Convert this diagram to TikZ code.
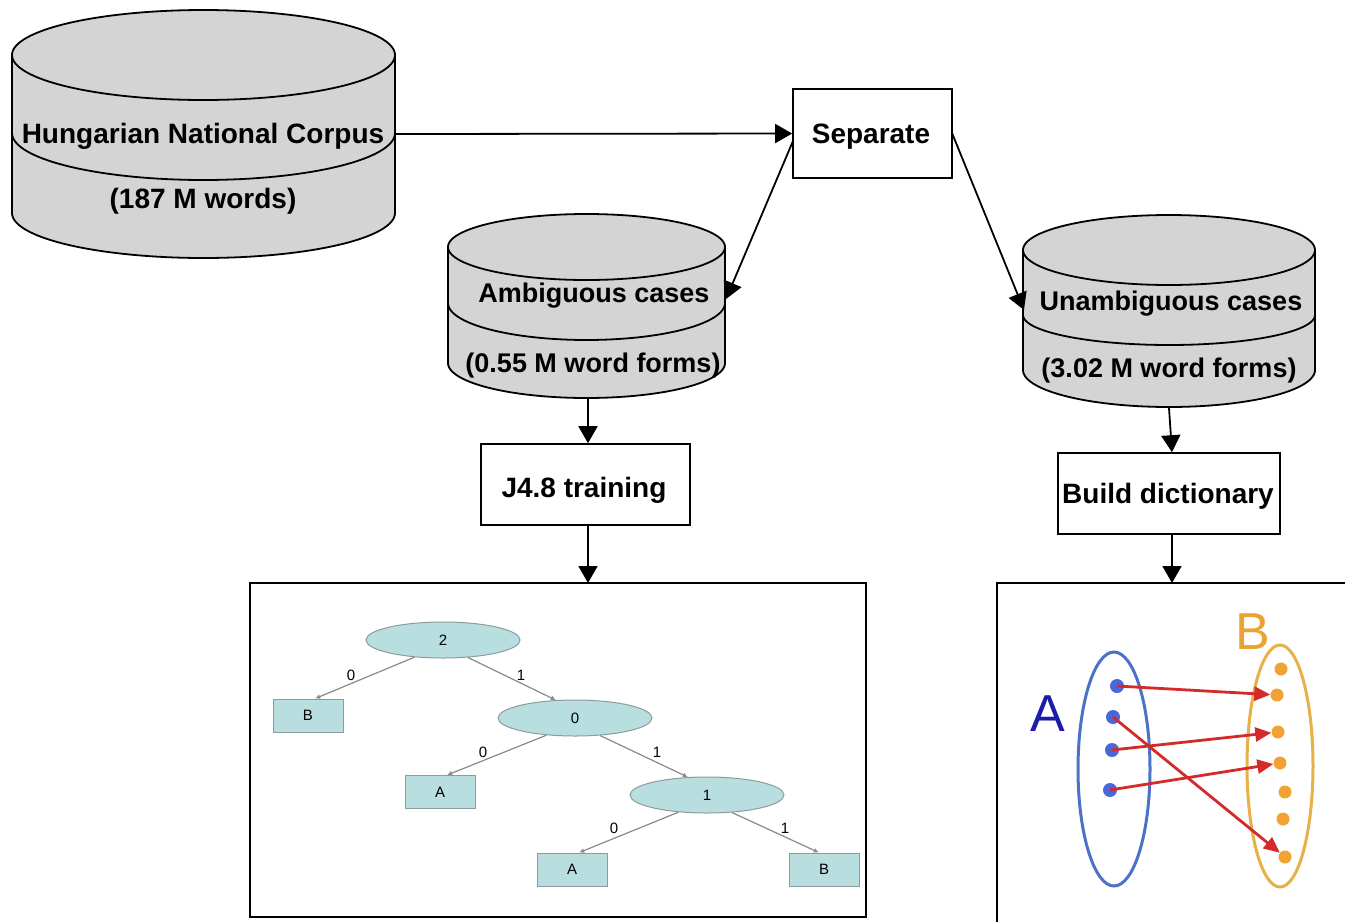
\documentclass[tikz,border=0pt]{standalone}
\usepackage{fontspec}
\setmainfont{Liberation Sans}
\usetikzlibrary{arrows.meta,shapes.geometric}
\definecolor{cylgray}{HTML}{D4D4D4}
\definecolor{tfill}{HTML}{B9DEE0}
\definecolor{tline}{HTML}{8C9C9C}
\definecolor{tedgec}{HTML}{8A8A8A}
\definecolor{setblue}{HTML}{4A72C8}
\definecolor{dotblue}{HTML}{4A66D8}
\definecolor{setorange}{HTML}{E8B048}
\definecolor{dotorange}{HTML}{F2A232}
\definecolor{letterA}{HTML}{1C1CA8}
\definecolor{letterB}{HTML}{EAA232}
\definecolor{mapred}{HTML}{D42A2A}
\tikzset{
  cylstyle/.style={fill=cylgray, draw=black, line width=1.8pt, line join=round},
  cylline/.style={draw=black, line width=1.8pt},
  boxst/.style={draw=black, fill=white, line width=1.6pt, inner sep=0pt},
  bigtxt/.style={font=\bfseries\fontsize{28}{33}\selectfont, inner sep=0pt, anchor=base},
  midtxt/.style={font=\bfseries\fontsize{27}{32}\selectfont, inner sep=0pt, anchor=base},
  arr/.style={draw=black, line width=1.8pt, -{Triangle[length=17pt,width=19pt]}},
  tell/.style={ellipse, draw=tline, fill=tfill, line width=1pt, minimum width=154pt, minimum height=36pt, inner sep=0pt, font=\fontsize{15}{17}\selectfont},
  tbox/.style={rectangle, draw=tline, fill=tfill, line width=1pt, minimum width=70pt, minimum height=33pt, inner sep=0pt, font=\fontsize{15}{17}\selectfont},
  tedge/.style={draw=tedgec, line width=1.2pt, -{Latex[length=5pt,width=5pt]}},
  tlab/.style={font=\fontsize{15}{17}\selectfont, inner sep=0pt},
  bdot/.style={circle, fill=dotblue, minimum size=14pt, inner sep=0pt},
  odot/.style={circle, fill=dotorange, minimum size=13pt, inner sep=0pt},
  redarr/.style={draw=mapred, line width=2.8pt, -{Triangle[length=16pt,width=14pt]}},
}
\newcommand\mycyl[8]{%
  \filldraw[cylstyle] ({#1-#2},#3) -- ({#1-#2},#7)
    -- plot[domain=180:0,samples=72] ({#1+#2*cos(\x)},{#7+#8*sin(\x)})
    -- ({#1+#2},#3)
    -- plot[domain=0:-180,samples=72] ({#1+#2*cos(\x)},{#3+#4*sin(\x)}) -- cycle;
  \draw[cylline] plot[domain=180:0,samples=72] ({#1+#2*cos(\x)},{#3+#4*sin(\x)});
  \draw[cylline] plot[domain=180:0,samples=72] ({#1+#2*cos(\x)},{#5+#6*sin(\x)});
}
\begin{document}
\begin{tikzpicture}[x=1pt,y=-1pt]
\useasboundingbox (0,0) rectangle (1345,922);
\fill[white] (0,0) rectangle (1345,922);

% cylinders
\mycyl{203.5}{191.5}{55}{45}{133}{47}{213}{45}
\mycyl{586.5}{138.5}{247}{33}{303}{37}{363}{35}
\mycyl{1169}{146}{250}{35}{315}{30}{370}{37}

\node[bigtxt] (hnc) at (203,143) {Hungarian National Corpus};
\node[bigtxt] (hncw) at (203,208) {(187 M words)};
\node[midtxt] (amb) at (594,302) {Ambiguous cases};
\node[midtxt] (ambw) at (593,372) {(0.55 M word forms)};
\node[midtxt] (una) at (1171,310) {Unambiguous cases};
\node[midtxt] (unaw) at (1169,377) {(3.02 M word forms)};

% process boxes
\node[boxst, minimum width=159pt, minimum height=89pt] (sep) at (872.5,133.5) {};
\node[bigtxt] (septxt) at (871,143) {Separate};
\node[boxst, minimum width=209pt, minimum height=81pt] (j48) at (585.5,484.5) {};
\node[bigtxt] (j48txt) at (584,497) {J4.8 training};
\node[boxst, minimum width=222pt, minimum height=81pt] (bd) at (1169,493.5) {};
\node[bigtxt] (bdtxt) at (1168,503) {Build dictionary};

% connection points
\coordinate (hncE) at (395,134);
\coordinate (sepL) at (793,141);
\coordinate (sepR) at (952,133);
\coordinate (ambE) at (726,299);
\coordinate (unaW) at (1024,310);
\coordinate (ambB) at (588,398);
\coordinate (unaB) at (1169,408);
\coordinate (treeTop) at (588,583);
\coordinate (mapTop) at (1172,583);

\draw[arr] (hncE) -- (sep.west);
\draw[arr] (sepL) -- (ambE);
\draw[arr] (sepR) -- (unaW);
\draw[arr] (ambB) -- (ambB |- j48.north);
\draw[arr] (unaB) -- (mapTop |- bd.north);
\draw[arr] (treeTop |- j48.south) -- (treeTop);
\draw[arr] (mapTop |- bd.south) -- (mapTop);

% tree picture frame
\node[draw=black, line width=1.6pt, minimum width=616pt, minimum height=334pt, inner sep=0pt] (treefr) at (558,750) {};

% decision tree
\node[tell] (t2) at (443,640) {2};
\node[tell] (t0) at (575,718) {0};
\node[tell] (t1) at (707,795) {1};
\node[tbox] (bB1) at (308,715.5) {B};
\node[tbox] (bA1) at (440,792) {A};
\node[tbox] (bA2) at (572,869.5) {A};
\node[tbox] (bB2) at (824,869.5) {B};

\draw[tedge] (t2.211) -- (bB1.67);
\draw[tedge] (t2.325) -- (t0.137);
\draw[tedge] (t0.211) -- (bA1.67);
\draw[tedge] (t0.325) -- (t1.137);
\draw[tedge] (t1.211) -- (bA2.67);
\draw[tedge] (t1.325) -- (bB2.107);

\node[tlab] (l1) at (351,675) {0};
\node[tlab] (l2) at (521,675) {1};
\node[tlab] (l3) at (483,752) {0};
\node[tlab] (l4) at (657,752) {1};
\node[tlab] (l5) at (614,828) {0};
\node[tlab] (l6) at (785,828) {1};

% mapping picture frame
\coordinate (mfBL) at (997,922);
\coordinate (mfTL) at (997,583);
\coordinate (mfTR) at (1345,583);
\draw[black, line width=1.8pt] (mfBL) -- (mfTL) -- (mfTR);

% sets
\node[ellipse, draw=setblue, line width=3pt, minimum width=72pt, minimum height=234pt, inner sep=0pt] (setA) at (1114,769) {};
\node[ellipse, draw=setorange, line width=3pt, minimum width=66pt, minimum height=242pt, inner sep=0pt] (setB) at (1280,766) {};
\node[text=letterA, font=\fontsize{52}{56}\selectfont, inner sep=0pt] (labA) at (1048,714) {A};
\node[text=letterB, font=\fontsize{52}{56}\selectfont, inner sep=0pt] (labB) at (1253,632) {B};

\node[bdot] (a1) at (1117,686) {};
\node[bdot] (a2) at (1113,717) {};
\node[bdot] (a3) at (1112,750) {};
\node[bdot] (a4) at (1110,790) {};
\node[odot] (b1) at (1281,669) {};
\node[odot] (b2) at (1277,695) {};
\node[odot] (b3) at (1278,732) {};
\node[odot] (b4) at (1280,763) {};
\node[odot] (b5) at (1285,792) {};
\node[odot] (b6) at (1283,819) {};
\node[odot] (b7) at (1285,857) {};

\draw[redarr] (a1.center) -- (b2);
\draw[redarr] (a2.center) -- (b7);
\draw[redarr] (a3.center) -- (b3);
\draw[redarr] (a4.center) -- (b4);
\end{tikzpicture}
\end{document}
